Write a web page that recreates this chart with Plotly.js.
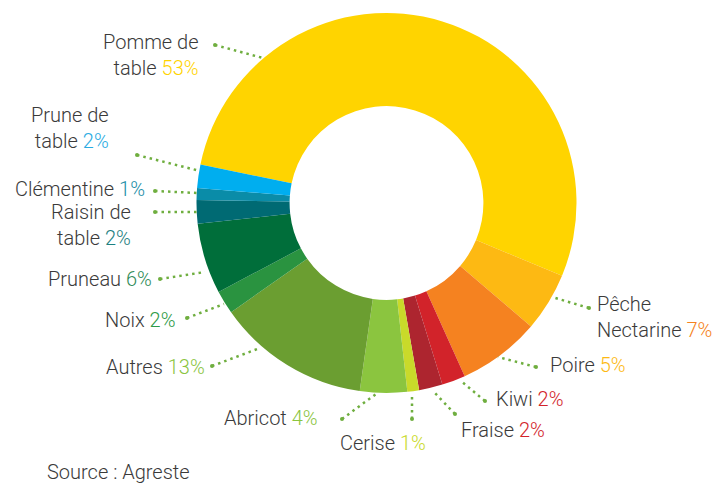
<!DOCTYPE html>
<html>
<head>
<meta charset="utf-8">
<script src="https://cdn.plot.ly/plotly-3.0.1.min.js"></script>
<style>html,body{margin:0;padding:0;background:#fff;}#chart{width:720px;height:484px;}</style>
</head>
<body>
<div id="chart"></div>
<script>
// Data (slice order, clockwise from the top)
const categories = ['Pomme de table', 'Poire', 'Pêche Nectarine', 'Kiwi', 'Fraise', 'Cerise', 'Abricot', 'Autres', 'Noix', 'Pruneau', 'Raisin de table', 'Clémentine', 'Prune de table'];
const values = [53, 5, 7, 2, 2, 1, 4, 13, 2, 6, 2, 1, 2];
const sliceColors = ['#FFD400', '#FDB913', '#F58220', '#D2232A', '#AD252F', '#C9DA2A', '#8BC53F', '#6B9E31', '#2A9340', '#006E3A', '#006A73', '#0A8CA8', '#00AEEF'];
const pctColors = ['#FFD400', '#FDB913', '#F58220', '#D2232A', '#D2232A', '#C9DA2A', '#8BC53F', '#8BC53F', '#2E9A48', '#2E8B57', '#1D8080', '#1B8EA6', '#29ABE2'];
// label texts (line breaks as in the picture)
const labelText = ['Pomme de<br>table', 'Poire', 'Pêche<br>Nectarine', 'Kiwi', 'Fraise', 'Cerise', 'Abricot', 'Autres', 'Noix', 'Pruneau', 'Raisin de<br>table', 'Clémentine', 'Prune de<br>table'];
const sourceText = 'Source : Agreste';

// Layout positions (pixels) for each label: [x, yCenter, side]
const W = 720, H = 484;
const labelPos = [
  [200, 55, 'right'],
  [549, 365, 'left'],
  [596, 317, 'left'],
  [495, 399, 'left'],
  [460, 430, 'left'],
  [427, 443, 'right'],
  [319, 418, 'right'],
  [206, 367, 'right'],
  [176, 320, 'right'],
  [153, 279, 'right'],
  [132, 224.5, 'right'],
  [146, 189, 'right'],
  [110, 128, 'right']
];
// Leader lines (pixels): [x0,y0 (label end), x1,y1 (slice end)]
const leaders = [
  [215, 45, 263, 58],
  [536, 367, 498, 357],
  [589, 308, 552, 297],
  [485, 401, 461, 381],
  [455, 414, 433, 391],
  [412, 419, 412, 393],
  [342, 419, 376, 394],
  [212, 366, 260, 348],
  [187, 318, 224, 304],
  [160, 279, 205, 272],
  [155, 212, 197, 212],
  [155, 191, 197, 193],
  [137, 155, 200, 171]
];

const px = x => x / W;
const py = y => 1 - y / H;

const font = "Roboto, 'Liberation Sans', sans-serif";
const textColor = '#3A3A3A';

const annotations = categories.map((c, i) => {
  const p = labelPos[i];
  return {
    xref: 'paper', yref: 'paper',
    x: px(p[0]), y: py(p[1]),
    xanchor: p[2], yanchor: 'middle',
    align: p[2],
    showarrow: false,
    borderpad: 0,
    font: {family: font, size: 20, color: textColor, weight: 300},
    text: labelText[i] + ' <span style="color:' + pctColors[i] + '">' + values[i] + '%</span>'
  };
});
annotations.push({
  xref: 'paper', yref: 'paper', x: px(46), y: py(472), xanchor: 'left', yanchor: 'middle',
  showarrow: false, borderpad: 0,
  font: {family: font, size: 20, color: textColor, weight: 300}, text: sourceText
});

const shapes = [];
leaders.forEach(l => {
  shapes.push({type: 'line', xref: 'paper', yref: 'paper', x0: px(l[0]), y0: py(l[1]), x1: px(l[2]), y1: py(l[3]),
    line: {color: '#6FAE3F', width: 2.5, dash: '2.5px,4px'}});
  shapes.push({type: 'circle', xref: 'paper', yref: 'paper', x0: px(l[0] - 2), y0: py(l[1] - 2), x1: px(l[0] + 2), y1: py(l[1] + 2),
    fillcolor: '#6FAE3F', line: {width: 0}});
});

const cx = 386.5, cy = 203, r = 190;
const trace = {
  type: 'pie',
  labels: categories,
  values: values,
  marker: {colors: sliceColors, line: {width: 0}},
  hole: 0.51,
  sort: false,
  direction: 'clockwise',
  rotation: -78.3,
  textinfo: 'none',
  hoverinfo: 'label+percent',
  showlegend: false,
  domain: {x: [px(cx - r), px(cx + r)], y: [py(cy + r), py(cy - r)]}
};

Plotly.newPlot('chart', [trace], {
  width: W, height: H,
  margin: {l: 0, r: 0, t: 0, b: 0},
  paper_bgcolor: '#fff',
  showlegend: false,
  annotations: annotations,
  shapes: shapes
}, {displayModeBar: false, staticPlot: true});
</script>
</body>
</html>
